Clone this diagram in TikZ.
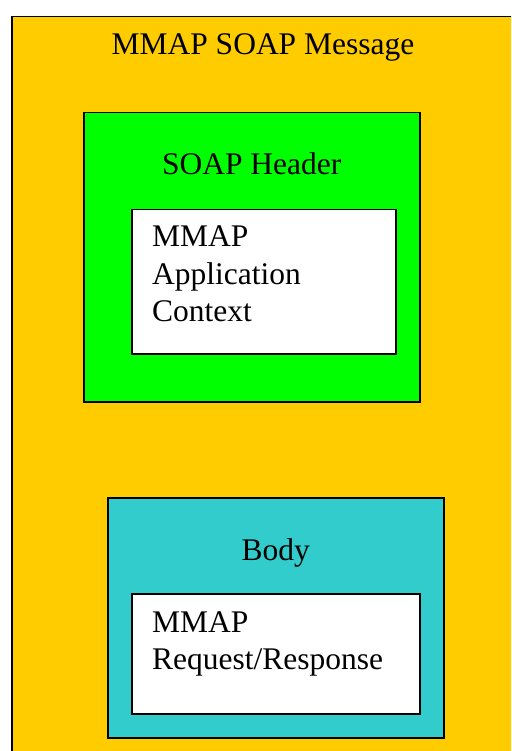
\documentclass[tikz,border=0pt]{standalone}
\usepackage{fontspec}
\setmainfont{Liberation Serif}
\usetikzlibrary{positioning}
\definecolor{msgorange}{HTML}{FFCC00}
\definecolor{hdrgreen}{HTML}{00FF00}
\definecolor{bodyteal}{HTML}{33CCCC}
\tikzset{
      layer box/.style={
		fill=#1,
		draw=black,
		line width=1.5pt,
		anchor=north west,
		inner sep=0pt,
	  },
  		caption/.style={
    	anchor=base,
    	inner sep=0pt,
    	font=\fontsize{31.5}{37.5}\selectfont,
      },
  		content/.style={
    	anchor=north west,
    	align=left,
    	inner sep=0pt,
    	font=\fontsize{31.5}{37.5}\selectfont,
      }
  	}
\begin{document}
\begin{tikzpicture}[x=1pt, y=-1pt]
    \useasboundingbox (0,0) rectangle (511,751);
    \clip (0,0) rectangle (511,751);
    \node [layer box=msgorange, minimum width=510pt, minimum height=750pt] (msg) at (11,16) {};
    \node [layer box=hdrgreen, minimum width=336pt, minimum height=289pt] (header) at (83,112) {};
    \node [layer box=white, minimum width=264pt, minimum height=144pt] (context) at (131,209) {};
    \node [layer box=bodyteal, minimum width=336pt, minimum height=240pt] (body) at (107,497) {};
    \node [layer box=white, minimum width=288pt, minimum height=120pt] (request) at (131,593) {};
    \node [caption] (msgtitle) at (263,55) {MMAP SOAP Message};
    \node [caption] (headertitle) at (header.center |- 0,175) {SOAP Header};
    \node [caption] (bodytitle) at (body.center |- 0,560) {Body};
    \node [content] (contexttext) at (152,226) {MMAP\\Application\\Context};
    \node [content] (requesttext) at (152,611) {MMAP\\Request/Response};
  \end{tikzpicture}
\end{document}
